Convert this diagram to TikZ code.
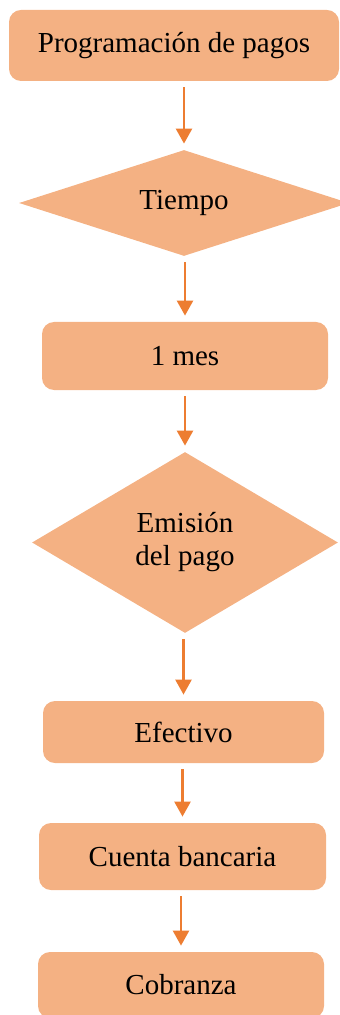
\documentclass[tikz,border=0pt]{standalone}
\usepackage{fontspec}
\setmainfont{Liberation Serif}
\usetikzlibrary{shapes.geometric,arrows.meta}
\definecolor{pasofill}{HTML}{F4B183}
\definecolor{pasoline}{HTML}{ED7D31}
\newcommand{\pasofont}{\fontsize{14.5}{16.5}\selectfont}

\begin{document}
\begin{tikzpicture}[x=1pt,y=1pt,
  pasobox/.style={rectangle,rounded corners=6pt,fill=pasofill,inner sep=0pt,
    font=\pasofont},
  decision/.style={diamond,fill=pasofill,inner sep=0pt,align=center,
    font=\pasofont},
  flow/.style={draw=pasoline,line width=1.25pt,
    -{Triangle[length=7.5pt,width=8pt]},shorten <=3pt,shorten >=3pt}]
\useasboundingbox (0,0) rectangle (169.5,-507.5);

\node[pasobox,minimum width=165pt,minimum height=35.5pt] (prog) at (87,-22.75) {Programación de pagos};
\node[decision,aspect=3,minimum width=165pt,minimum height=53pt] (tiempo) at (92,-101.5) {Tiempo};
\node[pasobox,minimum width=143pt,minimum height=34pt] (mes) at (92.5,-178) {1 mes};
\node[decision,aspect=1.7,minimum width=153pt,minimum height=90.5pt] (emision) at (92.5,-271.25) {Emisión\\del pago};
\node[pasobox,minimum width=140.5pt,minimum height=31pt] (efectivo) at (91.75,-366) {Efectivo};
\node[pasobox,minimum width=143.5pt,minimum height=33.5pt] (cuenta) at (91.25,-428.25) {Cuenta bancaria};
\node[pasobox,minimum width=143pt,minimum height=33pt] (cobranza) at (90.5,-492.5) {Cobranza};

\draw[flow] (prog.south -| tiempo.north) -- (tiempo.north);
\draw[flow] (tiempo.south -| mes.north) -- (mes.north);
\draw[flow] (mes.south -| emision.north) -- (emision.north);
\draw[flow] (emision.south -| efectivo.north) -- (efectivo.north);
\draw[flow] (efectivo.south -| cuenta.north) -- (cuenta.north);
\draw[flow] (cuenta.south -| cobranza.north) -- (cobranza.north);

\end{tikzpicture}
\end{document}
